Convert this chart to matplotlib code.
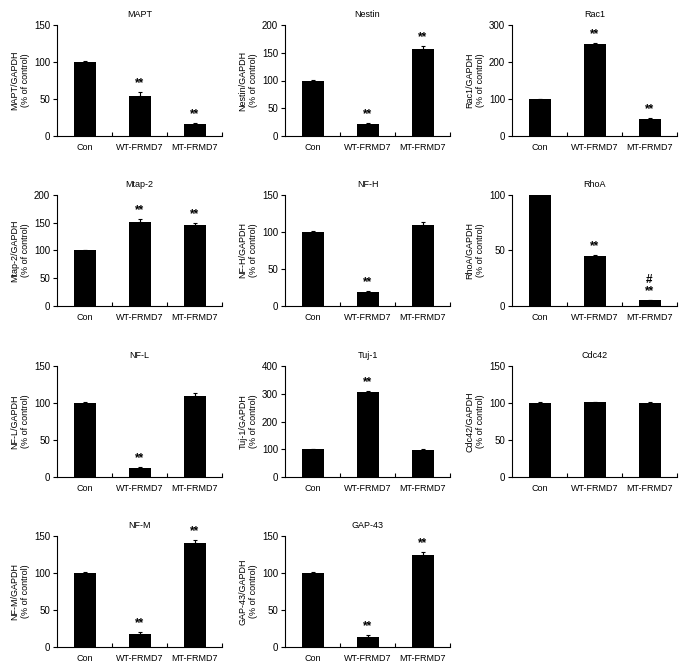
import matplotlib
matplotlib.use('Agg')
import matplotlib.pyplot as plt

plt.rcParams['font.family'] = ['Liberation Sans', 'DejaVu Sans']

groups = ['Con', 'WT-FRMD7', 'MT-FRMD7']

# panel names, means, errors, y max, y step, significance marks
names = ['MAPT', 'Nestin', 'Rac1',
         'Mtap-2', 'NF-H', 'RhoA',
         'NF-L', 'Tuj-1', 'Cdc42',
         'NF-M', 'GAP-43']
means = [[100, 54, 16], [100, 22, 157], [100, 248, 45],
         [100, 152, 146], [100, 19, 109], [100, 45, 5],
         [100, 12, 110], [100, 306, 97], [100, 101, 100],
         [100, 18, 140], [100, 14, 125]]
errors = [[1, 5, 1.5], [1, 2, 5], [1, 4, 3],
          [1, 4, 4], [1, 1.5, 5], [0.5, 1, 0.5],
          [1, 1, 4], [2, 4, 3], [1, 1, 1],
          [1, 2, 5], [1, 2, 3]]
ymax = [150, 200, 300, 200, 150, 100, 150, 400, 150, 150, 150]
ystep = [50, 50, 100, 50, 50, 50, 50, 100, 50, 50, 50]
marks = [['', '**', '**'], ['', '**', '**'], ['', '**', '**'],
         ['', '**', '**'], ['', '**', ''], ['', '**', '#\n**'],
         ['', '**', ''], ['', '**', ''], ['', '', ''],
         ['', '**', '**'], ['', '**', '**']]

W, H = 688, 672
col_left = [57, 285, 512]
row_top = [25, 195, 366, 536]
ax_w, ax_h = 165, 111

fig = plt.figure(figsize=(W / 100, H / 100), dpi=100)

for i, name in enumerate(names):
    r, c = divmod(i, 3)
    left = col_left[c] / W
    bottom = 1 - (row_top[r] + ax_h) / H
    ax = fig.add_axes([left, bottom, ax_w / W, ax_h / H])

    x = range(len(groups))
    ax.bar(x, means[i], width=0.4, color='black')
    ax.errorbar(x, means[i], yerr=[[0] * 3, errors[i]], fmt='none',
                ecolor='black', elinewidth=0.8, capsize=1.5, capthick=0.8)

    for j in x:
        if marks[i][j]:
            ax.annotate(marks[i][j], (j, means[i][j] + errors[i][j]),
                        xytext=(0, 2), textcoords='offset points',
                        ha='center', va='bottom', fontsize=8.5,
                        fontweight='bold', linespacing=0.9)

    ax.set_xlim(-0.5, 2.5)
    ax.set_ylim(0, ymax[i])
    ax.set_yticks(range(0, ymax[i] + 1, ystep[i]))
    ax.set_xticks(list(x))
    ax.set_xticklabels(groups, fontsize=6.5)
    ax.set_xticks([0.5, 1.5, 2.5], minor=True)
    ax.tick_params(axis='x', which='major', length=0, pad=5)
    ax.tick_params(axis='x', which='minor', direction='in', length=3, width=0.8)
    ax.tick_params(axis='y', direction='out', length=3, width=0.8,
                   labelsize=7, pad=2)

    for s in ['top', 'right']:
        ax.spines[s].set_visible(False)
    for s in ['left', 'bottom']:
        ax.spines[s].set_linewidth(0.8)

    ax.set_title(name, fontsize=6.5, pad=6)
    ax.set_ylabel(name + '/GAPDH\n(% of control)', fontsize=6.5, labelpad=3)

fig.savefig('out.png', dpi=100)
